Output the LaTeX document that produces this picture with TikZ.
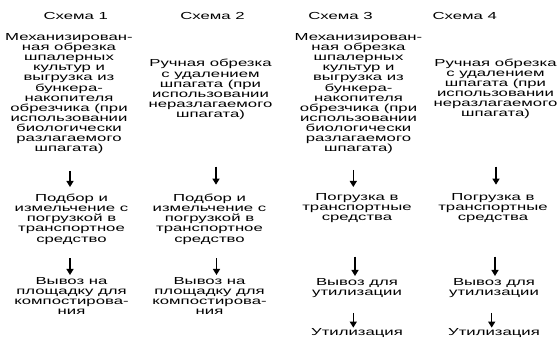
\documentclass[tikz,border=0pt]{standalone}
\usepackage{fontspec}
\setmainfont{Liberation Sans}[FakeStretch=1.64]
\usetikzlibrary{arrows.meta,calc}
\tikzset{
  txt/.style={font=\fontsize{10.2}{10.1}\selectfont, align=center, inner sep=0pt},
  arr/.style={line width=1.2pt, -{Triangle[width=7pt,length=6pt]}}
}
\begin{document}
\begin{tikzpicture}[x=1pt, y=-1pt]
    \useasboundingbox (0,0) rectangle (558,342);

    % Headers
    \foreach \n/\x in {1/75.8, 2/212.5, 3/340.5, 4/464.7} {
        \node[txt, anchor=base] (h\n) at (\x,20) {Схема \n};
    }

    % First step
    \node[txt, anchor=north] (a1) at (69,33.3) {Механизирован-\\ная обрезка\\шпалерных\\культур и\\выгрузка из\\бункера-\\накопителя\\обрезчика (при\\использовании\\биологически\\разлагаемого\\шпагата)};
    \node[txt, anchor=north] (b1) at (210.5,59.3) {Ручная обрезка\\с удалением\\шпагата (при\\использовании\\неразлагаемого\\шпагата)};
    \node[txt, anchor=north] (c1) at (358.5,33.3) {Механизирован-\\ная обрезка\\шпалерных\\культур и\\выгрузка из\\бункера-\\накопителя\\обрезчика (при\\использовании\\биологически\\разлагаемого\\шпагата)};
    \node[txt, anchor=north] (d1) at (495.5,58.6) {Ручная обрезка\\с удалением\\шпагата (при\\использовании\\неразлагаемого\\шпагата)};

    % Second step
    \node[txt, anchor=north] (a2) at (71.5,194) {Подбор и\\измельчение с\\погрузкой в\\транспортное\\средство};
    \node[txt, anchor=north] (b2) at (209.5,194) {Подбор и\\измельчение с\\погрузкой в\\транспортное\\средство};
    \node[txt, anchor=north] (c2) at (357,193) {Погрузка в\\транспортные\\средства};
    \node[txt, anchor=north] (d2) at (493,193) {Погрузка в\\транспортные\\средства};

    % Third step
    \node[txt, anchor=north] (a3) at (71.5,277) {Вывоз на\\площадку для\\компостирова-\\ния};
    \node[txt, anchor=north] (b3) at (209.5,277) {Вывоз на\\площадку для\\компостирова-\\ния};
    \node[txt, anchor=north] (c3) at (357,278) {Вывоз для\\утилизации};
    \node[txt, anchor=north] (d3) at (494,278) {Вывоз для\\утилизации};

    % Last step (schemes 3 and 4)
    \node[txt, anchor=north] (c4) at (357,328.6) {Утилизация};
    \node[txt, anchor=north] (d4) at (494,328.6) {Утилизация};

    % Arrows: from/to/x offset/gap at start/gap at end
    \foreach \a/\b/\dx/\s/\e in {a1/a2/-1.5/17pt/7pt, b1/b2/6.5/46.8pt/9.3pt,
        c1/c2/-3.7/16pt/6pt, d1/d2/3/47.5pt/8.3pt,
        a2/a3/-1.5/13.7pt/2pt, b2/b3/7/13.7pt/2pt,
        c2/c3/-2/34pt/2pt, d2/d3/1/34pt/2pt,
        c3/c4/-3.7/15.2pt/1pt, d3/d4/-2.3/15.2pt/1pt} {
        \draw[arr, shorten <=\s, shorten >=\e]
            ($(\a.south -| \b.north)+(\dx,0)$) -- ($(\b.north)+(\dx,0)$);
    }
\end{tikzpicture}
\end{document}
